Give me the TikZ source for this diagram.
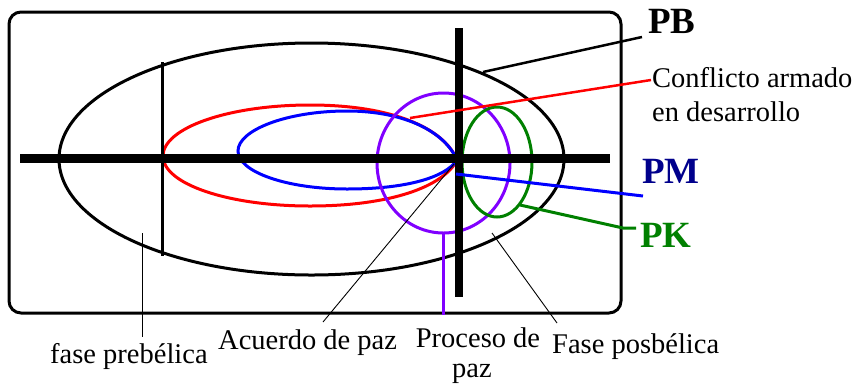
\documentclass[tikz,border=0pt]{standalone}
\usepackage{fontspec}
\setmainfont{Liberation Serif}
\definecolor{pred}{RGB}{255,0,0}
\definecolor{pblue}{RGB}{0,0,255}
\definecolor{pnavy}{RGB}{0,0,140}
\definecolor{ppurple}{RGB}{128,0,255}
\definecolor{pgreen}{RGB}{0,128,0}
\begin{document}
\begin{tikzpicture}[x=1pt,y=-1pt,
  lbl/.style={inner sep=0pt,anchor=base west,font=\fontsize{28.5}{34}\selectfont},
  big/.style={inner sep=0pt,anchor=base west,font=\fontsize{37}{40}\selectfont\bfseries},
  thinlead/.style={line width=0.9pt,black},
  shape3/.style={line width=3pt}]
\useasboundingbox (0,0) rectangle (856,384);
% frame
\draw[shape3,rounded corners=12pt] (9,12) rectangle (621,313);
% big black ellipse
\coordinate (cE) at (311.5,159);
\draw[shape3] (cE) ellipse [x radius=252.5, y radius=116];
% red teardrop
\coordinate (tip) at (457,160);
\coordinate (rTop) at (310,105);
\coordinate (rLeft) at (163,156);
\coordinate (rBot) at (310,206);
\draw[shape3,pred] (tip) .. controls (444,128) and (392,105) .. (rTop)
  .. controls (228,105) and (163,128) .. (rLeft)
  .. controls (163,184) and (228,206) .. (rBot)
  .. controls (392,206) and (444,186) .. (tip);
% blue teardrop
\coordinate (bTop) at (347,111);
\coordinate (bLeft) at (238,151);
\coordinate (bBot) at (347,189);
\draw[shape3,pblue] (tip) .. controls (445,132) and (405,111) .. (bTop)
  .. controls (287,111) and (238,130) .. (bLeft)
  .. controls (238,172) and (287,189) .. (bBot)
  .. controls (405,189) and (445,178) .. (tip);
% purple circle
\coordinate (cP) at (443.5,163);
\draw[shape3,ppurple] (cP) ellipse [x radius=66.5, y radius=70];
\coordinate (pTop) at (443.5,233);
\coordinate (pEnd) at (443.5,315);
\draw[shape3,ppurple] (pTop) -- (pEnd);
% green ellipse
\coordinate (cG) at (497,162);
\draw[shape3,pgreen] (cG) ellipse [x radius=35, y radius=55];
% thin vertical line
\coordinate (v1a) at (162,62);
\coordinate (v1b) at (162,256);
\draw[shape3] (v1a) -- (v1b);
% axes
\coordinate (hA) at (20,158);
\coordinate (hB) at (610,158);
\draw[line width=9pt] (hA) -- (hB);
\coordinate (vA) at (459,28);
\coordinate (vB) at (459,297);
\draw[line width=8pt] (vA) -- (vB);
% labels
\node[big] (PB) at (648,33) {PB};
\node[big,text=pnavy] (PM) at (642,183) {PM};
\node[big,text=pgreen] (PK) at (640,247) {PK};
\node[lbl] (conf1) at (652,87) {Conflicto armado};
\node[lbl] (conf2) at (652,121) {en desarrollo};
\node[lbl] (pre) at (50,363) {fase prebélica};
\node[lbl] (acu) at (218,349) {Acuerdo de paz};
\node[lbl,anchor=base] (proc1) at (478,347) {Proceso de};
\node[lbl,anchor=base] (proc2) at (472,377) {paz};
\node[lbl] (pos) at (552,353) {Fase posbélica};
% leaders
\coordinate (pbS) at (483,72);
\coordinate (pbE) at (642,37);
\draw[line width=2.5pt] (pbS) -- (pbE);
\coordinate (rS) at (410,118);
\coordinate (rE) at (651,80);
\draw[line width=2.5pt,pred] (rS) -- (rE);
\coordinate (bS) at (456,174);
\coordinate (bE) at (643,196);
\draw[line width=3pt,pblue] (bS) -- (bE);
\coordinate (gS) at (520,205);
\coordinate (gM) at (623,228);
\coordinate (gE) at (636,228);
\draw[line width=3pt,pgreen] (gS) -- (gM) -- (gE);
\coordinate (fpS) at (142,233);
\coordinate (fpE) at (142,337);
\draw[thinlead] (fpS) -- (fpE);
\coordinate (acS) at (454,164);
\coordinate (acE) at (323,322);
\draw[thinlead] (acS) -- (acE);
\coordinate (poS) at (492,233);
\coordinate (poE) at (557,323);
\draw[thinlead] (poS) -- (poE);
\end{tikzpicture}
\end{document}
